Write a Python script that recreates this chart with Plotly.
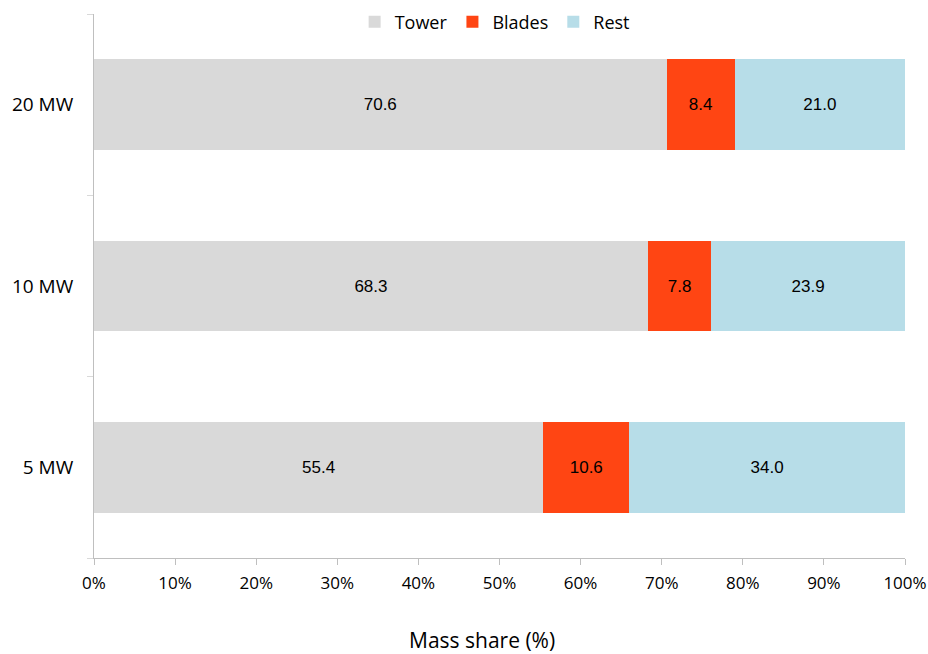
import plotly.graph_objects as go

categories = ["5 MW", "10 MW", "20 MW"]
tower = [55.4, 68.3, 70.6]
blades = [10.6, 7.8, 8.4]
rest = [34.0, 23.9, 21.0]
x_ticks = [0, 10, 20, 30, 40, 50, 60, 70, 80, 90, 100]

series = [("Tower", tower, "#d9d9d9"), ("Blades", blades, "#ff4513"), ("Rest", rest, "#b7dde8")]

fig = go.Figure()
for name, vals, col in series:
    fig.add_trace(go.Bar(
        y=categories, x=vals, name=name, orientation="h",
        marker=dict(color=col, line=dict(width=0)),
        text=[f"{v:.1f}" for v in vals], textposition="inside",
        insidetextanchor="middle", textangle=0, constraintext="none",
        textfont=dict(family="Liberation Sans, Arial", size=17, color="black"),
        hoverinfo="skip",
    ))

fig.update_layout(
    barmode="stack", bargap=0.5,
    width=928, height=654,
    margin=dict(l=94, r=23, t=14, b=96, autoexpand=False),
    paper_bgcolor="white", plot_bgcolor="white",
    font=dict(family="Open Sans, Noto Sans, sans-serif", size=19, color="black"),
    legend=dict(orientation="h", x=0.494, xanchor="center", y=0.985, yanchor="middle",
                font=dict(size=18), bgcolor="rgba(0,0,0,0)", traceorder="normal",
                itemwidth=30),
    showlegend=True,
    annotations=[dict(text="Mass share (%)", xref="paper", yref="paper", x=0.478, y=-0.151,
                      xanchor="center", yanchor="middle", showarrow=False,
                      font=dict(size=21))],
)
fig.update_xaxes(
    range=[0, 100], tickvals=x_ticks, ticktext=[f"{t}%" for t in x_ticks],
    showgrid=False, zeroline=False, showline=True, linecolor="#bfbfbf", linewidth=1,
    ticks="outside", ticklen=6, tickcolor="#bfbfbf", automargin=False,
    tickfont=dict(size=17), ticklabelstandoff=4,
)
fig.update_yaxes(
    categoryorder="array", categoryarray=categories, automargin=False,
    showgrid=False, showline=True, linecolor="#bfbfbf", linewidth=1,
    ticks="outside", tickson="boundaries", ticklen=6, tickcolor="#d9d9d9",
    tickfont=dict(size=19), ticklabelstandoff=16,
)

fig.write_html("out.html", config={"displayModeBar": False},
               post_script="document.body.style.margin='0';document.body.style.overflow='hidden';")
